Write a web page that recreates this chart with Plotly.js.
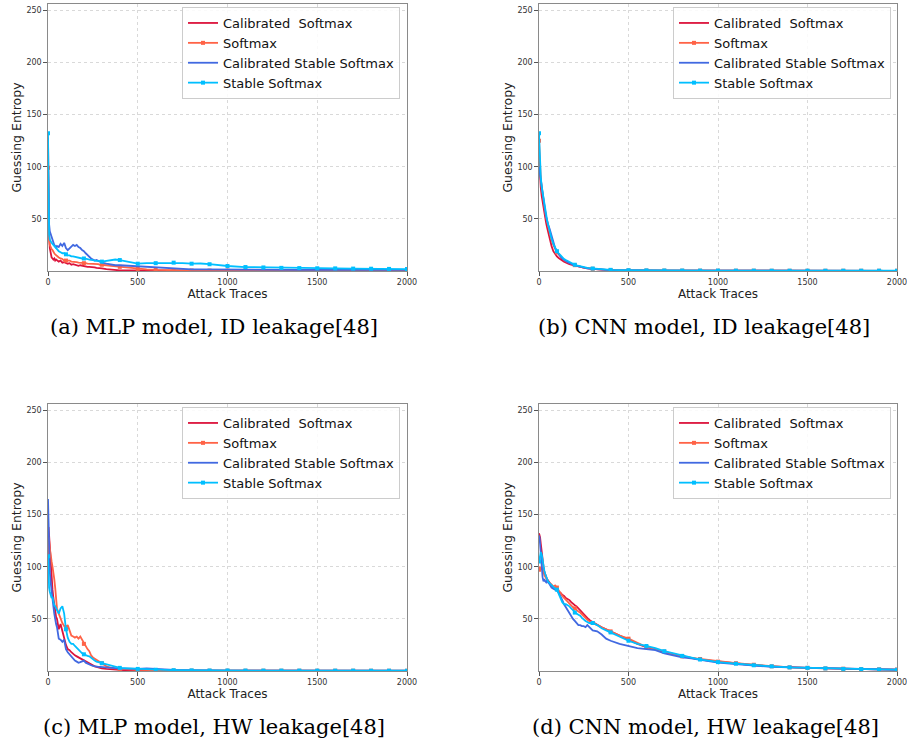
<!DOCTYPE html>
<html>
<head>
<meta charset="utf-8">
<script src="https://cdn.plot.ly/plotly-3.0.1.min.js"></script>
<style>html,body{margin:0;padding:0;background:#fff;}#chart{width:907px;height:745px;}</style>
</head>
<body>
<div id="chart"></div>
<script>
// Attack traces (shared x positions)
const X = [0,3,6,10,15,20,25,30,35,40,45,50,
  60,70,80,90,100,110,120,130,140,150,160,170,180,190,200,210,220,230,240,250,260,270,280,290,300,
  325,350,375,400,
  450,500,550,600,650,700,750,800,850,900,950,1000,
  1100,1200,1300,1400,1500,1600,1700,1800,1900,2000];

const SERIES_NAMES = ['Calibrated\u00a0 Softmax','Softmax','Calibrated Stable Softmax','Stable Softmax'];
const CAPTIONS = ['(a) MLP model, ID leakage[48]','(b) CNN model, ID leakage[48]',
                  '(c) MLP model, HW leakage[48]','(d) CNN model, HW leakage[48]'];
const X_TICKS = [0,500,1000,1500,2000];
const Y_TICKS = [50,100,150,200,250];

// (a) MLP, ID leakage
const A_cal = [128,60,35,22,15,13,12,11,12,10,11,10,
  9,10,8,8.5,8,7,7.5,6,6.5,6,5.5,5,5.5,5,4.5,4.5,4,4,4,3.5,3.5,3,3,2.5,2.5,
  1.8,1.2,0.8,0.6,
  0.5,0.4,0.4,0.35,0.3,0.3,0.3,0.3,0.3,0.25,0.25,0.25,
  0.2,0.2,0.2,0.2,0.2,0.2,0.2,0.2,0.2,0.2];
const A_soft = [99,55,30,25,22,21,20,18,17,16,15,14,
  13,12,11.5,10,10,9.5,10,9,9,8.5,8.5,8,8,7.5,7.5,7.5,7,7,7,7,6.5,6.5,6.5,6,6,
  5.5,5,4.5,4,
  3,2,1.5,1,0.8,0.6,0.5,0.5,0.45,0.4,0.4,0.4,
  0.35,0.35,0.3,0.3,0.3,0.3,0.3,0.3,0.3,0.3];
const A_cstab = [105,55,45,38,35,32,30,28,25,24,22,24,
  23,26,24,27,22,20,22,24,25,24,25,23,22,20,19,17,15,13,12,11,10,10.5,9.5,9,8,
  7,6,5.5,5.5,
  5,4,3.5,3,2.5,2,1.8,1.5,1.5,1.4,1.3,1.3,
  1.2,1.2,1.1,1.1,1.1,1,1,1,1,1];
const A_stab = [132,45,35,30,28,27,26,25,24,22,21,20,
  19,18,17,17,16,15,15,14,14,13.5,13,13,12.5,12,12,12,11.5,11,11,10.5,10,10,9.5,9.5,9,
  9.5,10.5,11,10.5,
  8.5,7,7.5,7.5,7.8,8,7.5,7,7.2,6.5,5.5,4.8,
  3.8,3.4,3,2.8,2.6,2.5,2.3,2.2,2,1.8];

// (b) CNN, ID leakage
const B_cal = [110,95,88,80,72,66,60,55,50,46,42,38,
  31,24,19,16,14,12.5,11,10,9,8,7.2,6.5,6,5.5,5,4.6,4.2,3.8,3.4,3,2.7,2.5,2.3,2.1,1.9,
  1.5,1.2,1,0.8,
  0.6,0.5,0.45,0.4,0.35,0.3,0.3,0.3,0.25,0.25,0.25,0.2,
  0.2,0.2,0.2,0.2,0.2,0.2,0.2,0.2,0.2,0.2];
const B_soft = [125,108,98,88,80,73,67,61,56,51,47,43,
  36,30,25,21,18,16,14,12,10.5,9.5,8.5,7.5,6.8,6.2,5.6,5,4.5,4.1,3.7,3.3,3,2.7,2.5,2.3,2.1,
  1.7,1.4,1.1,0.9,
  0.7,0.6,0.5,0.45,0.4,0.35,0.35,0.3,0.3,0.3,0.3,0.25,
  0.25,0.25,0.2,0.2,0.2,0.2,0.2,0.2,0.2,0.2];
const B_cstab = [100,96,92,86,80,74,68,62,57,52,47,45,
  40,33,26,22,19,16,14,12,10.5,9.5,8.5,7.5,6.8,6,5.5,5,4.5,4,3.6,3.2,2.9,2.6,2.4,2.2,2,
  1.6,1.3,1.1,0.9,
  0.7,0.6,0.5,0.45,0.4,0.35,0.3,0.3,0.3,0.25,0.25,0.25,
  0.2,0.2,0.2,0.2,0.2,0.2,0.2,0.2,0.2,0.2];
const B_stab = [132,112,100,90,81,75,69,63,58,53,49,45,
  37,31,26,22,19,17,15,13,11.5,10.5,9.5,8.5,7.5,6.8,6,5.5,5,4.5,4,3.6,3.3,3,2.8,2.6,2.4,
  2,1.6,1.3,1.1,
  0.9,0.8,0.7,0.6,0.55,0.5,0.5,0.45,0.45,0.4,0.4,0.4,
  0.35,0.35,0.3,0.3,0.3,0.3,0.3,0.3,0.3,0.3];

// (c) MLP, HW leakage
const C_cal = [120,138,130,118,100,88,78,70,62,57,52,50,
  40,45,38,30,25,21,20,18,16,15,14,13,12,11,10,9,8,7,6,5,4.5,4,3.5,3,2.5,
  2,1.5,1.2,1,
  0.7,0.5,0.4,0.3,0.3,0.3,0.25,0.25,0.2,0.2,0.2,0.2,
  0.2,0.2,0.2,0.2,0.2,0.2,0.2,0.2,0.2,0.2];
const C_soft = [105,128,125,118,108,105,100,95,88,80,66,60,
  55,50,46,43,42,44,38,34,33,32,33,31,33,30,26,24,21,19,15,13,12,11,10,9,7.5,
  4.5,3,2.5,2,
  1.5,1,0.8,0.6,0.5,0.4,0.4,0.35,0.3,0.3,0.3,0.3,
  0.25,0.25,0.25,0.25,0.25,0.25,0.25,0.25,0.25,0.25];
const C_cstab = [165,130,110,95,85,75,68,62,55,48,45,42,
  31,30,28,30,21,18,16,13,12,10,9,8,8.5,9,10,8,7,6,5.5,5,4.5,4.5,4,4,3.8,
  3.5,3,2.8,2.5,
  2,2,2.5,1.8,1.2,1,0.8,0.6,0.5,0.5,0.45,0.4,
  0.4,0.35,0.35,0.3,0.3,0.3,0.3,0.3,0.3,0.3];
const C_stab = [110,90,80,76,72,70,71,66,63,62,60,58,
  55,60,62,55,40,32,28,26,26,24,22,20,18,17,16,15,14.5,14,12.5,11,10,9,8.5,8,7.5,
  6,5,4,3,
  2.5,2,1.5,1.2,1,0.8,0.7,0.6,0.6,0.5,0.5,0.5,
  0.45,0.4,0.4,0.4,0.35,0.35,0.35,0.3,0.3,0.3];

// (d) CNN, HW leakage
const D_cal = [132,130,128,122,112,105,100,95,92,90,88,87,
  84,82,80,79,78,76,75,73,72,70,69,68,66,64,63,62,60,59,57,55,53,51,49,48,47,
  44,42,40,38,
  34,30,26,23,21,18,16,14,12.5,11,10,9,
  7,5.5,4.5,3.5,3,2.5,2,1.8,1.5,1.3];
const D_soft = [97,100,98,97,100,98,95,92,90,89,88,86,
  84,83,81,82,80,77,74,72,70,68,66,65,63,61,60,58,57,56,54,52,50,49,48,47,46,
  44,42,40,38,
  34,31,27,23,21,18.5,16,14,12.5,11.5,10,9,
  7.5,6,4.5,3.5,3,2.5,2.2,1.8,1.6,1.4];
const D_cstab = [130,128,122,110,95,90,86,88,86,85,87,85,
  83,80,79,78,77,75,72,68,64,61,58,55,52,50,48,46,44,44,43,43,42,44,42,40,39,
  38,35,31,29,
  26,24,22,21,20,17,15,13,12,10.5,9,8,
  6.5,5,4,3.5,3,2.5,2,1.7,1.4,1.2];
const D_stab = [105,108,112,114,112,106,100,96,93,90,88,86,
  84,82,80,79,78,74,70,66,64,64,63,62,60,58,56,55,54,53,51,49,48,47,46,46,46,
  44,41,39,37,
  33,29,26,24,22,19,17,14.5,13,11,10,8.5,
  7,5.5,4.5,3.5,3,2.5,2,1.8,1.5,1.3];

const PANELS = [
  [A_cal, A_soft, A_cstab, A_stab],
  [B_cal, B_soft, B_cstab, B_stab],
  [C_cal, C_soft, C_cstab, C_stab],
  [D_cal, D_soft, D_cstab, D_stab]
];

// ---------- styling ----------
const W = 907, H = 745;
const COLORS = ['#DC143C','#FF6347','#4169E1','#00BFFF'];
const WITH_MARKERS = [false, true, false, true];
const markIdx = X.map((v,i)=> (v % 100 === 0 ? i : -1)).filter(i => i >= 0);

// plot boxes in pixels: [left, right, top, bottom]
const BOXES = [[48,407,4,271],[539,897,4,271],[48,407,404,671],[539,897,404,671]];
const LEGEND_BOX = [[400,7],[891,7],[400,407],[891,407]]; // right, top
const CAP_POS = [[214,327],[704,327],[214,727],[705,727]];

const FONT = 'DejaVu Sans';
const traces = [];
const layout = {
  width: W, height: H,
  margin: {l:0, r:0, t:0, b:0},
  paper_bgcolor: '#ffffff', plot_bgcolor: '#ffffff',
  font: {family: FONT, color: '#222'},
  showlegend: true,
  annotations: []
};

PANELS.forEach((series, p) => {
  const sfx = p === 0 ? '' : String(p + 1);
  const legName = 'legend' + sfx;
  series.forEach((ys, s) => {
    const t = {
      type: 'scatter',
      x: X, y: ys,
      name: SERIES_NAMES[s],
      xaxis: 'x' + sfx, yaxis: 'y' + sfx,
      legend: legName,
      mode: WITH_MARKERS[s] ? 'lines+markers' : 'lines',
      line: {color: COLORS[s], width: 1.8},
      hoverinfo: 'skip'
    };
    if (WITH_MARKERS[s]) {
      t.marker = {symbol: 'square', size: 4, color: COLORS[s]};
      t.selectedpoints = markIdx;
      t.selected = {marker: {opacity: 1}};
      t.unselected = {marker: {opacity: 0}};
    }
    traces.push(t);
  });

  const b = BOXES[p];
  const common = {
    showgrid: true, gridcolor: '#d9d9d9', griddash: 'dot', gridwidth: 1,
    showline: true, linecolor: '#8a8a8a', linewidth: 1.2, mirror: true,
    ticks: 'outside', ticklen: 3.5, tickcolor: '#555', tickwidth: 1,
    tickfont: {size: 8, color: '#333', family: FONT},
    ticklabeloverflow: 'allow',
    zeroline: false, fixedrange: true
  };
  layout['xaxis' + sfx] = Object.assign({}, common, {
    domain: [b[0]/W, b[1]/W], anchor: 'y' + sfx,
    range: [0, 2000], tickvals: X_TICKS, ticktext: X_TICKS.map(String),
    title: {text: 'Attack Traces', font: {size: 12, family: FONT, color: '#222'}, standoff: 2}
  });
  layout['yaxis' + sfx] = Object.assign({}, common, {
    domain: [(H - b[3])/H, (H - b[2])/H], anchor: 'x' + sfx,
    range: [0, 256], tickvals: Y_TICKS, ticktext: Y_TICKS.map(String),
    title: {text: 'Guessing Entropy', font: {size: 12.5, family: FONT, color: '#222'}, standoff: 2}
  });
  const lb = LEGEND_BOX[p];
  layout[legName] = {
    x: lb[0]/W, xanchor: 'right', y: (H - lb[1])/H, yanchor: 'top',
    xref: 'paper', yref: 'paper',
    bgcolor: 'rgba(255,255,255,0.85)', bordercolor: '#cccccc', borderwidth: 1,
    font: {size: 13, family: FONT, color: '#111'},
    tracegroupgap: 0, itemclick: false, itemdoubleclick: false
  };
  const c = CAP_POS[p];
  layout.annotations.push({
    xref: 'paper', yref: 'paper', x: c[0]/W, y: (H - c[1])/H,
    xanchor: 'center', yanchor: 'middle', showarrow: false,
    text: CAPTIONS[p],
    font: {family: 'DejaVu Serif', size: 21, color: '#000'}
  });
});

Plotly.newPlot('chart', traces, layout, {staticPlot: true, displayModeBar: false});
</script>
</body>
</html>
